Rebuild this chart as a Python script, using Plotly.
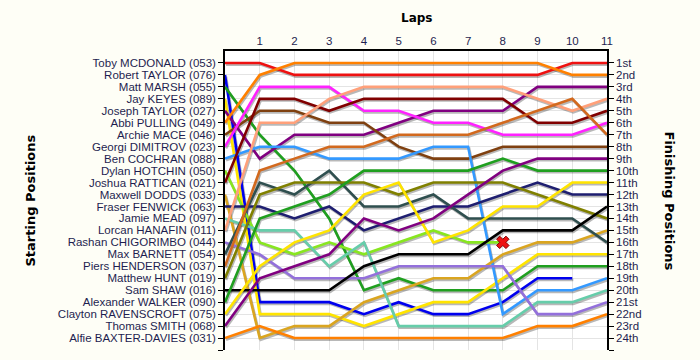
import plotly.graph_objects as go

laps = list(range(12))
lap_ticks = list(range(1, 12))

driver_names = [
    "Toby MCDONALD (053)", "Robert TAYLOR (076)", "Matt MARSH (055)", "Jay KEYES (089)",
    "Joseph TAYLOR (027)", "Abbi PULLING (049)", "Archie MACE (046)", "Georgi DIMITROV (023)",
    "Ben COCHRAN (088)", "Dylan HOTCHIN (050)", "Joshua RATTICAN (021)", "Maxwell DODDS (033)",
    "Fraser FENWICK (063)", "Jamie MEAD (097)", "Lorcan HANAFIN (011)", "Rashan CHIGORIMBO (044)",
    "Max BARNETT (054)", "Piers HENDERSON (037)", "Matthew HUNT (019)", "Sam SHAW (016)",
    "Alexander WALKER (090)", "Clayton RAVENSCROFT (075)", "Thomas SMITH (068)", "Alfie BAXTER-DAVIES (031)",
]

finish_labels = ["1st", "2nd", "3rd", "4th", "5th", "6th", "7th", "8th", "9th", "10th", "11th", "12th",
                 "13th", "14th", "15th", "16th", "17th", "18th", "19th", "20th", "21st", "22nd", "23rd", "24th"]

# positions per lap (lap 0 = grid)
toby_mcdonald = [1, 1, 2, 2, 2, 2, 2, 2, 2, 2, 1, 1]
robert_taylor = [2, 21, 21, 21, 22, 21, 22, 22, 21, 19, 19, None]
matt_marsh = [3, 7, 10, 14, 20, 19, 20, 20, 20, 18, 18, 18]
jay_keyes = [4, 22, 22, 22, 23, 22, 21, 21, 19, 17, 17, 17]
joseph_taylor = [5, 9, 7, 7, 7, 6, 5, 5, 5, 3, 3, 3]
abbi_pulling = [6, 2, 1, 1, 1, 1, 1, 1, 1, 1, 2, 2]
archie_mace = [7, 5, 5, 6, 6, 8, 9, 9, 8, 8, 8, 8]
georgi_dimitrov = [8, 3, 3, 3, 5, 5, 6, 6, 7, 7, 7, 6]
ben_cochran = [9, 8, 8, 9, 9, 9, 8, 8, 22, 20, 20, 19]
dylan_hotchin = [10, 16, 17, 16, 17, 16, 15, 16, 16, None, None, None]
joshua_rattican = [11, 4, 4, 5, 4, 4, 4, 4, 4, 6, 6, 5]
maxwell_dodds = [12, 24, 23, 23, 21, 20, 19, 19, 17, 16, 16, 15]
fraser_fenwick = [13, 13, 14, 13, 15, 14, 13, 13, 12, 11, 12, 12]
jamie_mead = [14, 15, 15, 18, 16, 23, 23, 23, 23, 21, 21, 20]
lorcan_hanafin = [15, 6, 6, 4, 3, 3, 3, 3, 3, 4, 5, 4]
rashan_chigorimbo = [16, 17, 19, 19, 19, 18, 18, 18, 18, 22, 22, 21]
max_barnett = [17, 11, 12, 10, 13, 13, 12, 14, 14, 14, 14, 16]
piers_henderson = [18, 10, 9, 8, 8, 7, 7, 7, 6, 5, 4, 7]
matthew_hunt = [19, 12, 11, 11, 11, 12, 11, 11, 11, 12, 13, 14]
sam_shaw = [20, 20, 20, 20, 18, 17, 17, 17, 15, 15, 15, 13]
alexander_walker = [21, 14, 13, 12, 10, 10, 10, 10, 9, 10, 10, 10]
clayton_ravenscroft = [22, 18, 16, 15, 12, 11, 16, 15, 13, 13, 11, 11]
thomas_smith = [23, 19, 18, 17, 14, 15, 14, 12, 10, 9, 9, 9]
alfie_baxter_davies = [24, 23, 24, 24, 24, 24, 24, 24, 24, 23, 23, 22]

retired_driver = 9   # index of Dylan HOTCHIN (050)
retired_lap = 8

series = [toby_mcdonald, robert_taylor, matt_marsh, jay_keyes, joseph_taylor, abbi_pulling,
          archie_mace, georgi_dimitrov, ben_cochran, dylan_hotchin, joshua_rattican, maxwell_dodds,
          fraser_fenwick, jamie_mead, lorcan_hanafin, rashan_chigorimbo, max_barnett, piers_henderson,
          matthew_hunt, sam_shaw, alexander_walker, clayton_ravenscroft, thomas_smith, alfie_baxter_davies]

colors = ["#EE1111", "#0000EE", "#1F9F1F", "#FFE400", "#800080", "#FF8000",
          "#7F4010", "#FF22FF", "#3399FF", "#88E620", "#800000", "#DAA520",
          "#1E1E70", "#66CDAA", "#FFA07A", "#9370DB", "#2F4F4F", "#D2691E",
          "#808000", "#000000", "#1F9F1F", "#FFE400", "#800080", "#FF8000"]

fig = go.Figure()

# drop shadows
for s in series:
    fig.add_trace(go.Scatter(
        x=[l + 0.03 for l in laps], y=[None if v is None else v + 0.14 for v in s],
        mode="lines", line=dict(color="rgba(0,0,0,0.28)", width=2.6),
        hoverinfo="skip", showlegend=False))

for name, s, c in zip(driver_names, series, colors):
    fig.add_trace(go.Scatter(
        x=laps, y=s, mode="lines", name=name,
        line=dict(color=c, width=2.6), showlegend=False))

fig.add_trace(go.Scatter(
    x=[laps[retired_lap]], y=[series[retired_driver][retired_lap]], mode="markers",
    marker=dict(symbol="x", size=11, color="#EE1111", line=dict(color="#800000", width=1)),
    showlegend=False, hoverinfo="skip"))

# secondary axis anchor trace
fig.add_trace(go.Scatter(x=[None], y=[None], yaxis="y2", showlegend=False, hoverinfo="skip"))

label_font = dict(family="Liberation Sans, Arial, sans-serif", size=11.5, color="#1E1E50")
title_font = dict(family="DejaVu Sans, Verdana, sans-serif", size=13, color="black")
grid = "#E4E4E4"

L, R, T, B = 225, 93, 51, 10
pw = 700 - L - R
ph = 360 - T - B

fig.update_layout(
    width=700, height=360,
    margin=dict(l=L, r=R, t=T, b=B),
    paper_bgcolor="#FEFEF6", plot_bgcolor="#FFFFFF",
    showlegend=False,
    xaxis=dict(side="top", range=[0, 11], tickvals=lap_ticks, ticktext=[str(v) for v in lap_ticks],
               showgrid=True, gridcolor=grid, gridwidth=1, zeroline=False,
               showline=True, linecolor="black", linewidth=1.5, mirror=False,
               ticks="", tickfont=label_font, automargin=False),
    yaxis=dict(range=[25, 0], tickvals=list(range(1, 26)), ticktext=driver_names + [""],
               showgrid=True, gridcolor=grid, zeroline=False,
               showline=True, linecolor="black", linewidth=1.5,
               ticks="outside", ticklen=5, tickcolor="black", tickfont=label_font, automargin=False),
    yaxis2=dict(range=[25, 0], overlaying="y", side="right", tickvals=list(range(1, 26)),
                ticktext=finish_labels + [""], showgrid=False, zeroline=False,
                showline=True, linecolor="black", linewidth=1.5,
                ticks="outside", ticklen=5, tickcolor="black", tickfont=label_font, automargin=False),
    annotations=[
        dict(text="<b>Laps</b>", x=0.5, xref="paper", y=1 + (T - 18) / ph, yref="paper",
             xanchor="center", yanchor="middle", showarrow=False,
             font=dict(family="DejaVu Sans, Verdana, sans-serif", size=12, color="black")),
        dict(text="<b>Starting Positions</b>", x=(30 - L) / pw, xref="paper", y=0.5, yref="paper",
             xanchor="center", yanchor="middle", textangle=-90, showarrow=False, font=title_font),
        dict(text="<b>Finishing Positions</b>", x=(669 - L) / pw, xref="paper", y=0.5, yref="paper",
             xanchor="center", yanchor="middle", textangle=90, showarrow=False, font=title_font),
    ],
)

fig.write_html("out.html", config={"displayModeBar": False},
               post_script="document.body.style.margin='0';")
